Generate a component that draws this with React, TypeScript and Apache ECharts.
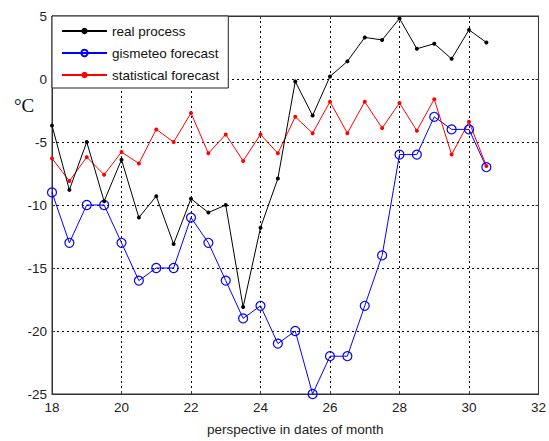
import React, { useEffect, useRef } from "react";
import * as echarts from "echarts";

const dates = [18, 18.5, 19, 19.5, 20, 20.5, 21, 21.5, 22, 22.5, 23, 23.5, 24, 24.5, 25, 25.5, 26, 26.5, 27, 27.5, 28, 28.5, 29, 29.5, 30, 30.5];
const realProcess = [-3.7, -8.8, -5, -9.7, -6.4, -11, -9.3, -13.1, -9.5, -10.6, -10, -18.1, -11.8, -7.9, -0.2, -2.9, 0.2, 1.4, 3.3, 3.1, 4.8, 2.4, 2.8, 1.6, 3.9, 2.9];
const gismeteo = [-9, -13, -10, -10, -13, -16, -15, -15, -11, -13, -16, -19, -18, -21, -20, -25, -22, -22, -18, -14, -6, -6, -3, -4, -4, -7];
const statistical = [-6.3, -8.1, -6.2, -7.6, -5.8, -6.7, -4, -5, -2.7, -5.9, -4.4, -6.5, -4.4, -5.9, -3, -4.3, -1.8, -4.3, -1.8, -3.9, -1.9, -4.1, -1.6, -6, -3.4, -6.9];
const seriesNames = ["real process", "gismeteo forecast", "statistical forecast"];
const xTicks = { min: 18, max: 32, interval: 2 };
const yTicks = { min: -25, max: 5, interval: 5 };

const pair = (ys: number[]) => dates.map((d, i) => [d, ys[i]]);

export default function App() {
  const ref = useRef<HTMLDivElement>(null);
  useEffect(() => {
    if (!ref.current) return;
    const chart = echarts.init(ref.current, undefined, { renderer: "svg" });
    const font = "Arial, 'Liberation Sans', sans-serif";
    const split = { show: true, lineStyle: { color: "#000", type: [2, 3] as any, width: 1 } };
    const baseX = {
      type: "value" as const,
      min: xTicks.min,
      max: xTicks.max,
      interval: xTicks.interval,
      axisLine: { show: true, onZero: false, lineStyle: { color: "#333" } },
      axisTick: { show: true, inside: true, length: 3, lineStyle: { color: "#333" } },
    };
    const baseY = {
      type: "value" as const,
      min: yTicks.min,
      max: yTicks.max,
      interval: yTicks.interval,
      axisLine: { show: true, onZero: false, lineStyle: { color: "#333" } },
      axisTick: { show: true, inside: true, length: 3, lineStyle: { color: "#333" } },
    };
    chart.setOption({
      animation: false,
      backgroundColor: "#fff",
      grid: { left: 52, right: 9, top: 16, bottom: 40, show: true, borderColor: "#333", borderWidth: 1 },
      xAxis: [
        {
          ...baseX,
          position: "bottom",
          name: "perspective in dates of month",
          nameLocation: "middle",
          nameGap: 28,
          nameTextStyle: { color: "#222", fontSize: 13.5, fontFamily: font },
          axisLabel: { color: "#222", fontSize: 13.5, fontFamily: font, margin: 6 },
          splitLine: split,
        },
        { ...baseX, position: "top", axisLabel: { show: false }, splitLine: { show: false } },
      ],
      yAxis: [
        {
          ...baseY,
          position: "left",
          axisLabel: { color: "#222", fontSize: 13.5, fontFamily: font, margin: 5 },
          splitLine: split,
        },
        { ...baseY, position: "right", axisLabel: { show: false }, splitLine: { show: false } },
      ],
      legend: {
        left: 52,
        top: 16,
        orient: "vertical",
        backgroundColor: "#fff",
        borderColor: "#222",
        borderWidth: 1,
        borderRadius: 0,
        padding: [8, 9, 6, 9],
        itemWidth: 45,
        itemHeight: 8,
        itemGap: 8,
        textStyle: { color: "#111", fontSize: 13.5, fontFamily: font },
        data: seriesNames,
      },
      graphic: [
        {
          type: "text",
          left: 14,
          top: 96,
          style: { text: "°C", fontSize: 19, fontFamily: "'Liberation Serif', 'Times New Roman', serif", fill: "#111" },
        },
      ],
      series: [
        {
          name: seriesNames[0],
          type: "line",
          data: pair(realProcess),
          symbol: "circle",
          symbolSize: 4,
          color: "#000",
          lineStyle: { width: 1, color: "#000" },
          itemStyle: { color: "#000", borderWidth: 0 },
          z: 3,
        },
        {
          name: seriesNames[1],
          type: "line",
          data: pair(gismeteo),
          symbol: "circle",
          symbolSize: 9,
          color: "#0000ff",
          lineStyle: { width: 1, color: "#0000ff" },
          itemStyle: { color: "transparent", borderColor: "#0000ff", borderWidth: 1.2 },
          z: 2,
        },
        {
          name: seriesNames[2],
          type: "line",
          data: pair(statistical),
          symbol: "circle",
          symbolSize: 4,
          color: "#ff0000",
          lineStyle: { width: 1, color: "#ff0000" },
          itemStyle: { color: "#ff0000", borderWidth: 0 },
          z: 2,
        },
      ],
    });
    return () => chart.dispose();
  }, []);
  return <div ref={ref} style={{ position: "fixed", left: 0, top: 0, width: 549, height: 441 }} />;
}
